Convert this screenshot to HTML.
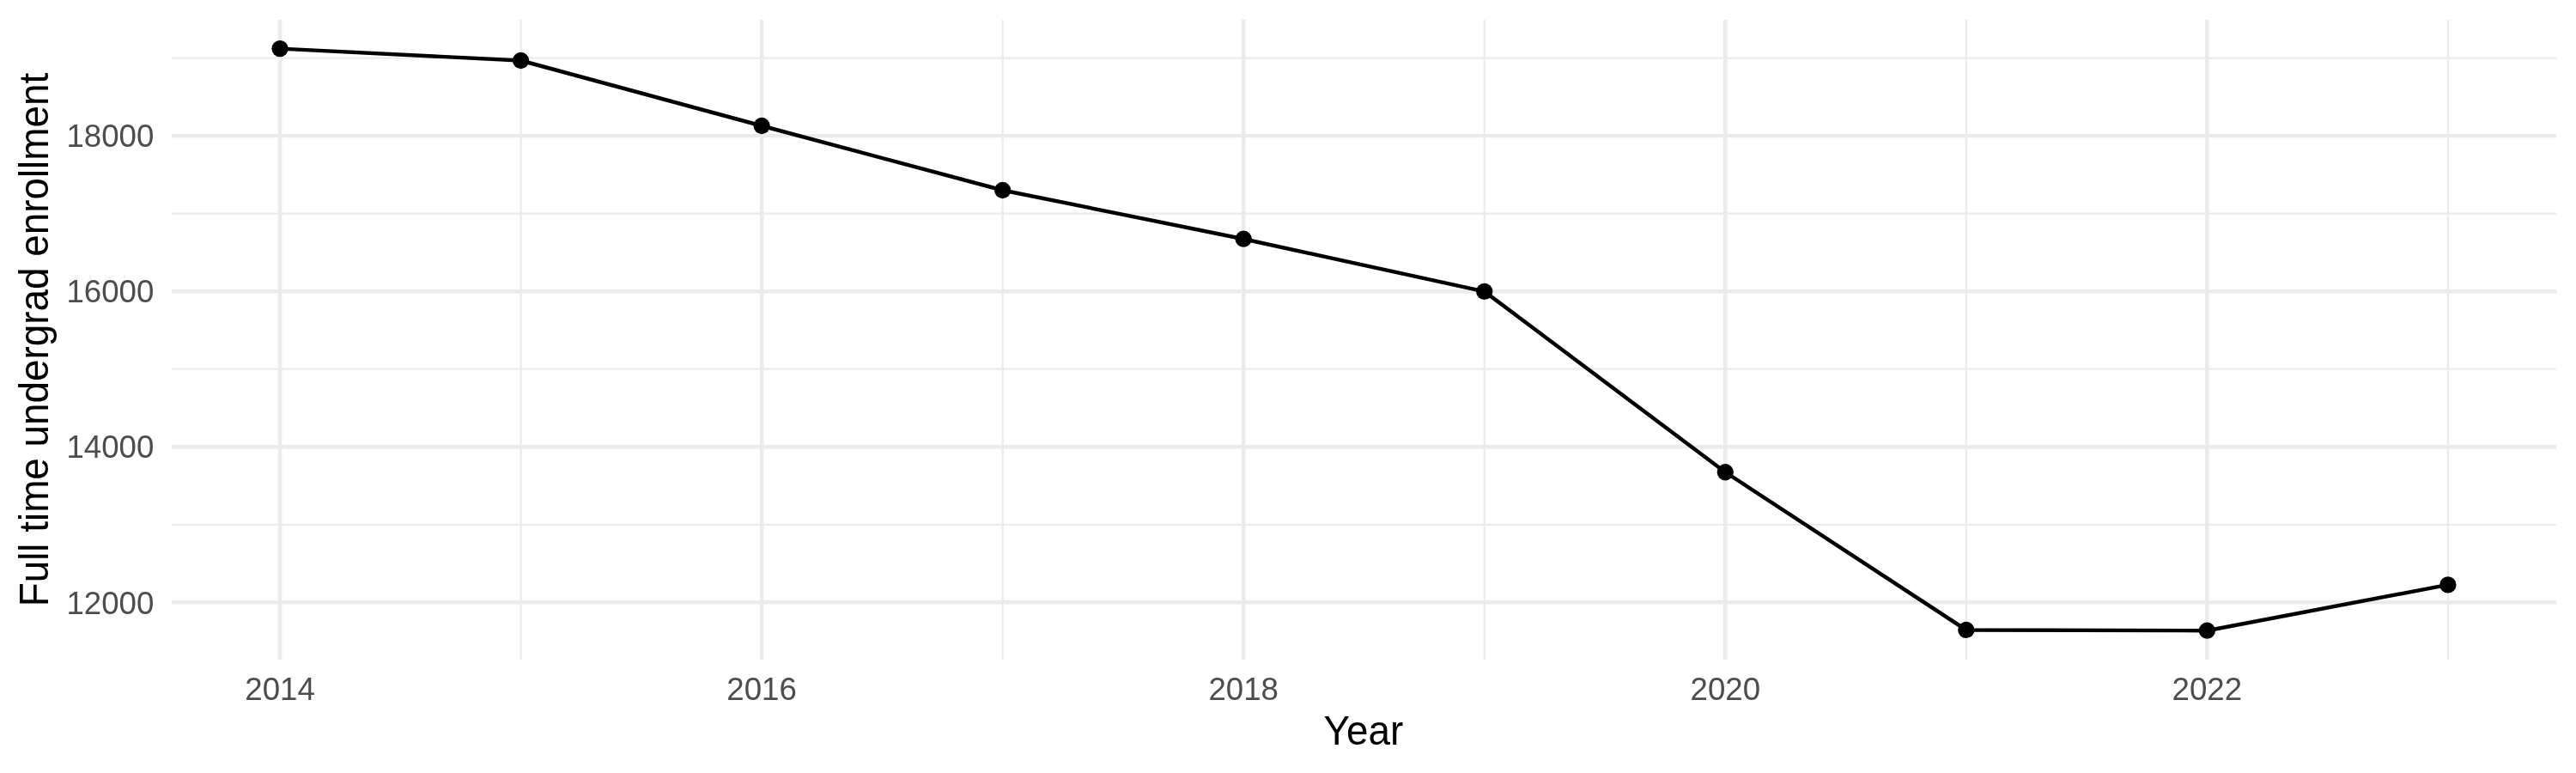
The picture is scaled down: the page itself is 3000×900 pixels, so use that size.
<!DOCTYPE html>
<html lang="en">
<head>
<meta charset="utf-8">
<title>Full time undergrad enrollment by year</title>
<style>
html,body{margin:0;padding:0;background:#fff;}
body{width:3000px;height:900px;overflow:hidden;}
svg{display:block;will-change:transform;}
text{font-family:"Liberation Sans",sans-serif;}
.tick{font-size:36.67px;fill:#4D4D4D;}
.title{font-size:45.83px;fill:#000;}
.maj{stroke:#EBEBEB;stroke-width:4.45;fill:none;}
.min{stroke:#EBEBEB;stroke-width:2.22;fill:none;}
.ln{stroke:#000;stroke-width:4.45;fill:none;stroke-linejoin:round;stroke-linecap:butt;}
.pt{fill:#000;}
</style>
</head>
<body>
<svg width="3000" height="900" viewBox="0 0 3000 900">
<rect x="0" y="0" width="3000" height="900" fill="#fff"/>
<g class="min">
<line x1="200.0" x2="2977.06" y1="67.56" y2="67.56"/>
<line x1="200.0" x2="2977.06" y1="248.63" y2="248.63"/>
<line x1="200.0" x2="2977.06" y1="429.70" y2="429.70"/>
<line x1="200.0" x2="2977.06" y1="610.78" y2="610.78"/>
<line x1="606.58" x2="606.58" y1="22.92" y2="768.0"/>
<line x1="1167.66" x2="1167.66" y1="22.92" y2="768.0"/>
<line x1="1728.74" x2="1728.74" y1="22.92" y2="768.0"/>
<line x1="2289.82" x2="2289.82" y1="22.92" y2="768.0"/>
<line x1="2850.90" x2="2850.90" y1="22.92" y2="768.0"/>
</g>
<g class="maj">
<line x1="200.0" x2="2977.06" y1="158.10" y2="158.10"/>
<line x1="200.0" x2="2977.06" y1="339.17" y2="339.17"/>
<line x1="200.0" x2="2977.06" y1="520.24" y2="520.24"/>
<line x1="200.0" x2="2977.06" y1="701.31" y2="701.31"/>
<line x1="326.04" x2="326.04" y1="22.92" y2="768.0"/>
<line x1="887.12" x2="887.12" y1="22.92" y2="768.0"/>
<line x1="1448.20" x2="1448.20" y1="22.92" y2="768.0"/>
<line x1="2009.28" x2="2009.28" y1="22.92" y2="768.0"/>
<line x1="2570.36" x2="2570.36" y1="22.92" y2="768.0"/>
</g>
<polyline class="ln" points="326.04,56.65 606.58,70.50 887.12,146.50 1167.66,221.50 1448.20,278.20 1728.74,339.40 2009.28,549.75 2289.82,733.45 2570.36,734.20 2850.90,680.90"/>
<g class="pt">
<circle cx="326.04" cy="56.65" r="9.65"/>
<circle cx="606.58" cy="70.50" r="9.65"/>
<circle cx="887.12" cy="146.50" r="9.65"/>
<circle cx="1167.66" cy="221.50" r="9.65"/>
<circle cx="1448.20" cy="278.20" r="9.65"/>
<circle cx="1728.74" cy="339.40" r="9.65"/>
<circle cx="2009.28" cy="549.75" r="9.65"/>
<circle cx="2289.82" cy="733.45" r="9.65"/>
<circle cx="2570.36" cy="734.20" r="9.65"/>
<circle cx="2850.90" cy="680.90" r="9.65"/>
</g>
<g class="tick" text-anchor="end">
<text transform="translate(179.4 171.30) scale(1 1.03)">18000</text>
<text transform="translate(179.4 352.37) scale(1 1.03)">16000</text>
<text transform="translate(179.4 533.44) scale(1 1.03)">14000</text>
<text transform="translate(179.4 714.51) scale(1 1.03)">12000</text>
</g>
<g class="tick" text-anchor="middle">
<text transform="translate(326.04 815.2) scale(1 1.03)">2014</text>
<text transform="translate(887.12 815.2) scale(1 1.03)">2016</text>
<text transform="translate(1448.20 815.2) scale(1 1.03)">2018</text>
<text transform="translate(2009.28 815.2) scale(1 1.03)">2020</text>
<text transform="translate(2570.36 815.2) scale(1 1.03)">2022</text>
</g>
<text class="title" text-anchor="middle" transform="translate(1587.9 866.8) scale(1 1.03)">Year</text>
<text class="title" text-anchor="middle" transform="translate(56.0 395.6) rotate(-90) scale(1 1.03)">Full time undergrad enrollment</text>
</svg>
</body>
</html>
